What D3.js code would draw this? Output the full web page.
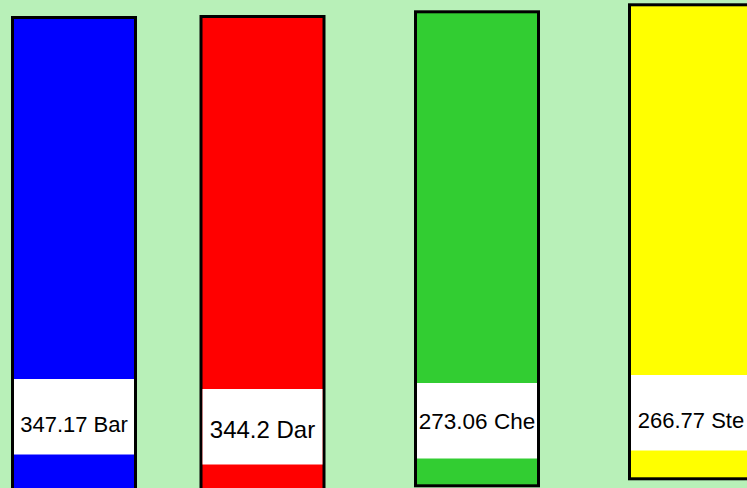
<!DOCTYPE html>
<html>
<head>
<meta charset="utf-8">
<script src="https://cdn.jsdelivr.net/npm/d3@7"></script>
<style>
  html, body { margin: 0; padding: 0; background: #b8f0b8; overflow: hidden; }
  text { font-family: "Liberation Sans", Arial, sans-serif; }
</style>
</head>
<body>
<svg id="chart" width="747" height="488"></svg>
<script>
// data
const names = ["Bar", "Dar", "Che", "Ste"];
const values = [347.17, 344.2, 273.06, 266.77];
const colors = ["#0000ff", "#ff0000", "#32cd32", "#ffff00"];

// layout (this view is a shifted / cropped look at the bars)
const barLeft = [12.5, 201, 415.5, 629.5];
const barTop = [17.5, 16.5, 11.8, 4.8];
const boxTop = [379, 389, 383, 375];
const textBase = [432, 438, 429, 428];
const textSize = [22, 24, 22.5, 22];
const barW = 123, barH = 474, boxH = 75.5;

const data = names.map((n, i) => ({ name: n, value: values[i] }));

let xPos = d3.scaleOrdinal().domain(names).range(barLeft);
let yTop = d3.scaleOrdinal().domain(names).range(barTop);
let yBox = d3.scaleOrdinal().domain(names).range(boxTop);
let yText = d3.scaleOrdinal().domain(names).range(textBase);
let fontSize = d3.scaleOrdinal().domain(names).range(textSize);
let color = d3.scaleOrdinal().domain(names).range(colors);

let svg = d3.select('#chart');

svg.append('rect').attr('width', 747).attr('height', 488).attr('fill', '#b8f0b8');

let g = svg.selectAll('g.bar').data(data).join('g').attr('class', 'bar');

g.append('rect')
  .attr('x', d => xPos(d.name))
  .attr('y', d => yTop(d.name))
  .attr('width', barW)
  .attr('height', barH)
  .attr('fill', d => color(d.name))
  .attr('stroke', '#000')
  .attr('stroke-width', 3);

g.append('rect')
  .attr('x', d => xPos(d.name) + 1.5)
  .attr('y', d => yBox(d.name))
  .attr('width', barW - 3)
  .attr('height', boxH)
  .attr('fill', '#fff');

g.append('text')
  .attr('x', d => xPos(d.name) + barW / 2)
  .attr('y', d => yText(d.name))
  .attr('text-anchor', 'middle')
  .attr('font-size', d => fontSize(d.name))
  .attr('fill', '#000')
  .text(d => `${d.value} ${d.name}`);
</script>
</body>
</html>
